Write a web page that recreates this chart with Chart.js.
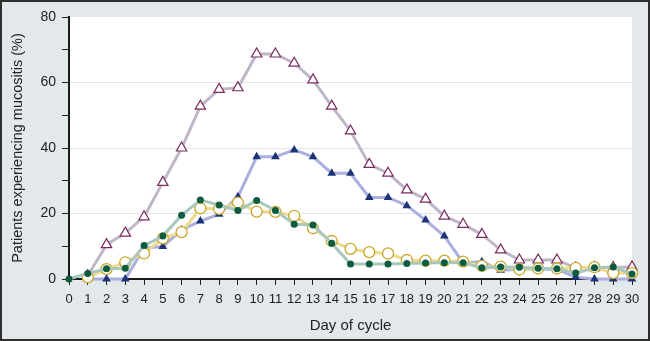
<!DOCTYPE html>
<html>
<head>
<meta charset="utf-8">
<script src="https://cdn.jsdelivr.net/npm/chart.js@4.4.1/dist/chart.umd.min.js"></script>
<style>
  html, body { margin: 0; padding: 0; }
  .frame {
    width: 650px; height: 341px; box-sizing: border-box;
    border: 2px solid #2e2e2e; background: #e3e8ea;
  }
  canvas { display: block; }
</style>
</head>
<body>
<div class="frame"><canvas class="my-chart" width="646" height="337"></canvas></div>
<script>
const days = [0, 1, 2, 3, 4, 5, 6, 7, 8, 9, 10, 11, 12, 13, 14, 15, 16, 17, 18, 19, 20, 21, 22, 23, 24, 25, 26, 27, 28, 29, 30];
const openTriangle = [null, 1, 10.5, 14, 19, 29.5, 40, 52.8, 57.9, 58.4, 68.7, 68.7, 65.9, 60.8, 52.8, 45.2, 35, 32.3, 27.2, 24.4, 19.2, 16.7, 13.6, 8.9, 5.8, 5.8, 5.8, 3.4, 3.5, 3.5, 3.7];
const filledTriangle = [null, 0, 0, 0, 9.5, 9.9, 15, 17.7, 19.8, 25.1, 37.3, 37.3, 39.4, 37.3, 32.3, 32.3, 24.9, 24.9, 22.4, 18, 13.1, 5, 5.3, 2.7, 3, 3, 3, 0.5, 0, 0, 0];
const filledCircle = [0, 1.7, 3.1, 3.3, 10.2, 13.1, 19.5, 24.1, 22.6, 20.9, 24, 20.9, 16.7, 16.5, 10.9, 4.6, 4.6, 4.6, 4.7, 4.9, 5, 5, 3.4, 3.7, 3.6, 3.3, 3.1, 1.8, 3.4, 3.7, 1.5];
const openCircle = [null, 0.5, 3, 5.1, 7.8, 12.4, 14.3, 21.6, 21.4, 23.3, 20.6, 20.5, 19.3, 15.5, 11.6, 9.2, 8.2, 7.8, 5.8, 5.6, 5.6, 5.3, 4, 3.8, 2.9, 3.2, 3.2, 3.4, 3.6, 1.8, 1.8];
const yTicks = [0, 20, 40, 60, 80];

const toPoints = (arr) => days.map((d, i) => ({ x: d, y: arr[i] }));

const plotBackground = {
  id: "plotBackground",
  beforeDraw(chart) {
    const { ctx, chartArea } = chart;
    ctx.save();
    ctx.fillStyle = "#ffffff";
    ctx.fillRect(chartArea.left, chartArea.top, chartArea.right - chartArea.left, chartArea.bottom - chartArea.top);
    ctx.restore();
  },
};

const myChart = document.querySelector(".my-chart");

new Chart(myChart, {
  type: "line",
  data: {
    datasets: [
      {
        label: "filled circle",
        data: toPoints(filledCircle),
        borderColor: "#a9c8bc",
        borderWidth: 3,
        pointStyle: "circle",
        pointRadius: 3.5,
        pointBackgroundColor: "#0e5c3b",
        pointBorderColor: "#0e5c3b",
        pointBorderWidth: 0,
        clip: false,
      },
      {
        label: "open circle",
        data: toPoints(openCircle),
        borderColor: "#eed98c",
        borderWidth: 3,
        pointStyle: "circle",
        pointRadius: 5.5,
        pointBackgroundColor: "#ffffff",
        pointBorderColor: "#c9a62a",
        pointBorderWidth: 1.3,
        clip: false,
      },
      {
        label: "filled triangle",
        data: toPoints(filledTriangle),
        borderColor: "#aaaee0",
        borderWidth: 3,
        pointStyle: "triangle",
        pointRadius: 5,
        pointBackgroundColor: "#1d3479",
        pointBorderColor: "#1d3479",
        pointBorderWidth: 0,
        clip: false,
      },
      {
        label: "open triangle",
        data: toPoints(openTriangle),
        borderColor: "#c0b6c9",
        borderWidth: 3,
        pointStyle: "triangle",
        pointRadius: 6,
        pointBackgroundColor: "#ffffff",
        pointBorderColor: "#7b2a5c",
        pointBorderWidth: 1.2,
        clip: false,
      },
    ],
  },
  options: {
    responsive: false,
    animation: false,
    layout: { padding: { top: 15, right: 16, left: 0, bottom: 0 } },
    plugins: {
      legend: { display: false },
      tooltip: { enabled: false },
    },
    scales: {
      x: {
        type: "linear",
        min: 0,
        max: 30,
        afterFit: (s) => { s.height = 60; },
        ticks: {
          stepSize: 1,
          autoSkip: false,
          maxRotation: 0,
          padding: 7,
          color: "#222",
          font: { family: "Liberation Sans, Arial, sans-serif", size: 13 },
        },
        grid: { drawOnChartArea: false, tickLength: 6, tickColor: "#222", tickWidth: 1 },
        border: { color: "#1a1a1a", width: 2 },
        title: {
          display: true,
          text: "Day of cycle",
          color: "#222",
          padding: { top: 5 },
          font: { family: "Liberation Sans, Arial, sans-serif", size: 15 },
        },
      },
      y: {
        min: 0,
        max: 80,
        afterFit: (s) => { s.width = 67; },
        ticks: {
          stepSize: 10,
          padding: 6,
          color: "#222",
          font: { family: "Liberation Sans, Arial, sans-serif", size: 14 },
          callback: (v) => (yTicks.includes(v) ? v : ""),
        },
        grid: {
          color: (c) => (c.tick && c.tick.value > 0 && c.tick.value < 80 && c.tick.value % 20 === 0 ? "#e6e6e6" : "rgba(0,0,0,0)"),
          tickColor: "#222",
          tickLength: 7,
        },
        border: { color: "#1a1a1a", width: 2 },
        title: {
          display: true,
          text: "Patients experiencing mucositis (%)",
          color: "#222",
          padding: { top: 7, bottom: 0 },
          font: { family: "Liberation Sans, Arial, sans-serif", size: 14.5 },
        },
      },
    },
  },
  plugins: [plotBackground],
});
</script>
</body>
</html>
